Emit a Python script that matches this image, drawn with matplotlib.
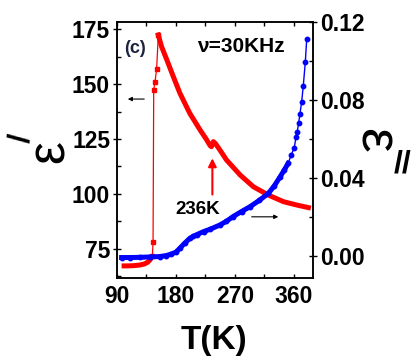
import numpy as np
import matplotlib
matplotlib.use("Agg")
import matplotlib.pyplot as plt
from matplotlib.ticker import MultipleLocator, FormatStrFormatter

plt.rcParams['font.family'] = ['Liberation Sans', 'DejaVu Sans']
plt.rcParams['font.weight'] = 'bold'

# eps' (left axis), low-temperature branch
red_low_T = [97, 105, 115, 125, 132, 137, 141, 144]
red_low_eps = [67.3, 67.3, 67.4, 67.7, 68.2, 69.0, 70.3, 72.0]

# eps' around the jump (sparse square points)
red_jump_T = [144, 145, 146, 148, 150.5, 153]
red_jump_eps = [72.0, 78.0, 147.3, 151.0, 157.0, 172.3]

# eps' high-temperature branch
red_high_T = [153, 158, 166, 176, 186, 201, 217, 226, 232, 234, 237, 240,
              247, 257, 278, 298, 321, 344, 364, 382]
red_high_eps = [172.3, 167.0, 161.0, 153.3, 145.8, 136.7, 129.0, 125.0, 122.0,
                121.5, 123.8, 123.0, 120.0, 115.5, 108.6, 103.3, 99.5, 96.5,
                95.0, 93.8]

# eps'' (right axis)
blue_T = [97, 110, 125, 140, 155, 165, 173, 180, 186, 193, 201, 206, 212, 222,
          232, 247, 257, 267, 280, 293, 307, 321, 330, 339, 345, 351, 356,
          360.5, 363, 365, 367, 369, 371.7, 374.2, 377.3, 379.4]
blue_eps = [-0.0008, -0.0008, -0.0007, -0.0005, -0.0003, 0.0002, 0.001, 0.002,
            0.004, 0.0065, 0.009, 0.010, 0.011, 0.0125, 0.0137, 0.0159, 0.0178,
            0.0202, 0.0228, 0.0253, 0.0285, 0.0321, 0.036, 0.0407, 0.044,
            0.0475, 0.052, 0.0556, 0.0609, 0.0638, 0.068, 0.0727, 0.079,
            0.0873, 0.0996, 0.1113]

fig = plt.figure(figsize=(4.15, 3.6), dpi=100)
ax = fig.add_axes([117 / 415, 82 / 360, 196 / 415, 256 / 360])
ax2 = ax.twinx()

# red curve
ax.plot(red_jump_T, red_jump_eps, color='red', lw=0.9, marker='s', ms=3.5, zorder=3)
ax.plot(red_low_T, red_low_eps, color='red', lw=3.6, solid_capstyle='butt', zorder=3)
ax.plot(red_high_T, red_high_eps, color='red', lw=3.6, zorder=3)

# blue curve
bt = np.array(blue_T)
be = np.array(blue_eps)
dense = bt <= 352
ax2.plot(bt, be, color='blue', lw=1.0, marker='o', ms=3.2)
ax2.plot(bt[dense], be[dense], color='blue', lw=3.6)

ax.set_xlim(90, 389)
ax.set_ylim(61.8, 178.2)
ax2.set_ylim(-0.0113, 0.12)

ax.xaxis.set_major_locator(MultipleLocator(90))
ax.xaxis.set_minor_locator(MultipleLocator(45))
ax.yaxis.set_major_locator(MultipleLocator(25))
ax.yaxis.set_minor_locator(MultipleLocator(12.5))
ax2.yaxis.set_major_locator(MultipleLocator(0.04))
ax2.yaxis.set_minor_locator(MultipleLocator(0.02))
ax2.yaxis.set_major_formatter(FormatStrFormatter('%.2f'))

ax.tick_params(axis='x', which='both', direction='in', top=True, length=3,
               width=1, labelsize=16.5, pad=5)
ax.tick_params(axis='y', which='major', direction='inout', length=6, width=1,
               labelsize=16.5, pad=2)
ax.tick_params(axis='y', which='minor', direction='in', length=3, width=1)
ax2.tick_params(axis='y', which='major', direction='inout', length=6, width=1,
                labelsize=16.5, pad=2)
ax2.tick_params(axis='y', which='minor', direction='in', length=3, width=1)
for a in (ax, ax2):
    for s in a.spines.values():
        s.set_linewidth(1.1)

# annotations
ax.text(0.035, 0.898, '(c)', transform=ax.transAxes, fontsize=13,
        color='#1c2340', va='center', ha='left')
ax.text(0.408, 0.906, 'ν=30KHz', transform=ax.transAxes, fontsize=15,
        va='center', ha='left')
ax.text(0.296, 0.266, '236K', transform=ax.transAxes, fontsize=13.5,
        va='center', ha='left')
ax.annotate('', xy=(0.041, 0.699), xytext=(0.153, 0.699), xycoords='axes fraction',
            arrowprops=dict(arrowstyle='-|>', lw=0.8, mutation_scale=6, color='black'))
ax.annotate('', xy=(0.837, 0.239), xytext=(0.673, 0.239), xycoords='axes fraction',
            arrowprops=dict(arrowstyle='-|>', lw=0.8, mutation_scale=6, color='black'))
ax.annotate('', xy=(235.5, 117.5), xytext=(235.5, 98.5),
            arrowprops=dict(arrowstyle='-|>', lw=1.5, mutation_scale=12, color='red'))

# axis labels
fig.text(214 / 415, 1 - 340 / 360, 'T(K)', fontsize=24, ha='center', va='center')
fig.text(50 / 415, 1 - 152 / 360, "ε", fontsize=37, rotation=90,
         ha='center', va='center', fontweight='normal')
fig.text(22 / 415, 1 - 138 / 360, "/", fontsize=22, rotation=85,
         ha='center', va='center')
fig.text(374 / 415, 1 - 140 / 360, "ε", fontsize=40, rotation=270,
         ha='center', va='center', fontweight='normal')
fig.text(403 / 415, 1 - 165 / 360, "//", fontsize=23, rotation=0,
         ha='center', va='center')

fig.savefig('out.png', dpi=100)
